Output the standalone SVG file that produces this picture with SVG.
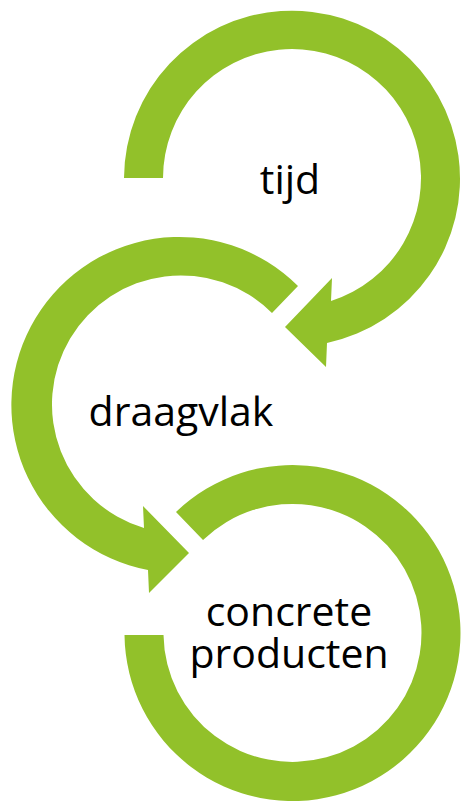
<svg xmlns="http://www.w3.org/2000/svg" width="463" height="801" viewBox="0 0 463 801">
<style>
.arrow{fill:#92C12A;stroke:none}
.lbl{font-family:"Open Sans","DejaVu Sans",sans-serif;font-size:41px;fill:#000;text-anchor:middle}
</style>
<rect width="463" height="801" fill="#fff"/>
<g id="connectors">
<path class="arrow" d="M124,178 A168,168 0 1 1 327,343 L326,367 L285,327 L332,278 L331,301 A129,129 0 1 0 163,178 Z"/>
<path class="arrow" d="M298,286 A168,168 0 1 0 148,570 L149,593 L189,553 L143,506 L144,528 A129,129 0 1 1 272,313 Z"/>
<path class="arrow" d="M124.5,635 A168,168 0 1 0 176,512 L203,540 A129,129 0 1 1 163.5,635 Z"/>
</g>
<g id="node-tijd"><text class="lbl" x="290" y="194">tijd</text></g>
<g id="node-draagvlak"><text class="lbl" x="181" y="426">draagvlak</text></g>
<g id="node-concrete-producten"><text class="lbl" x="289" y="626"><tspan x="289" y="626">concrete</tspan><tspan x="289" y="668">producten</tspan></text></g>
</svg>
